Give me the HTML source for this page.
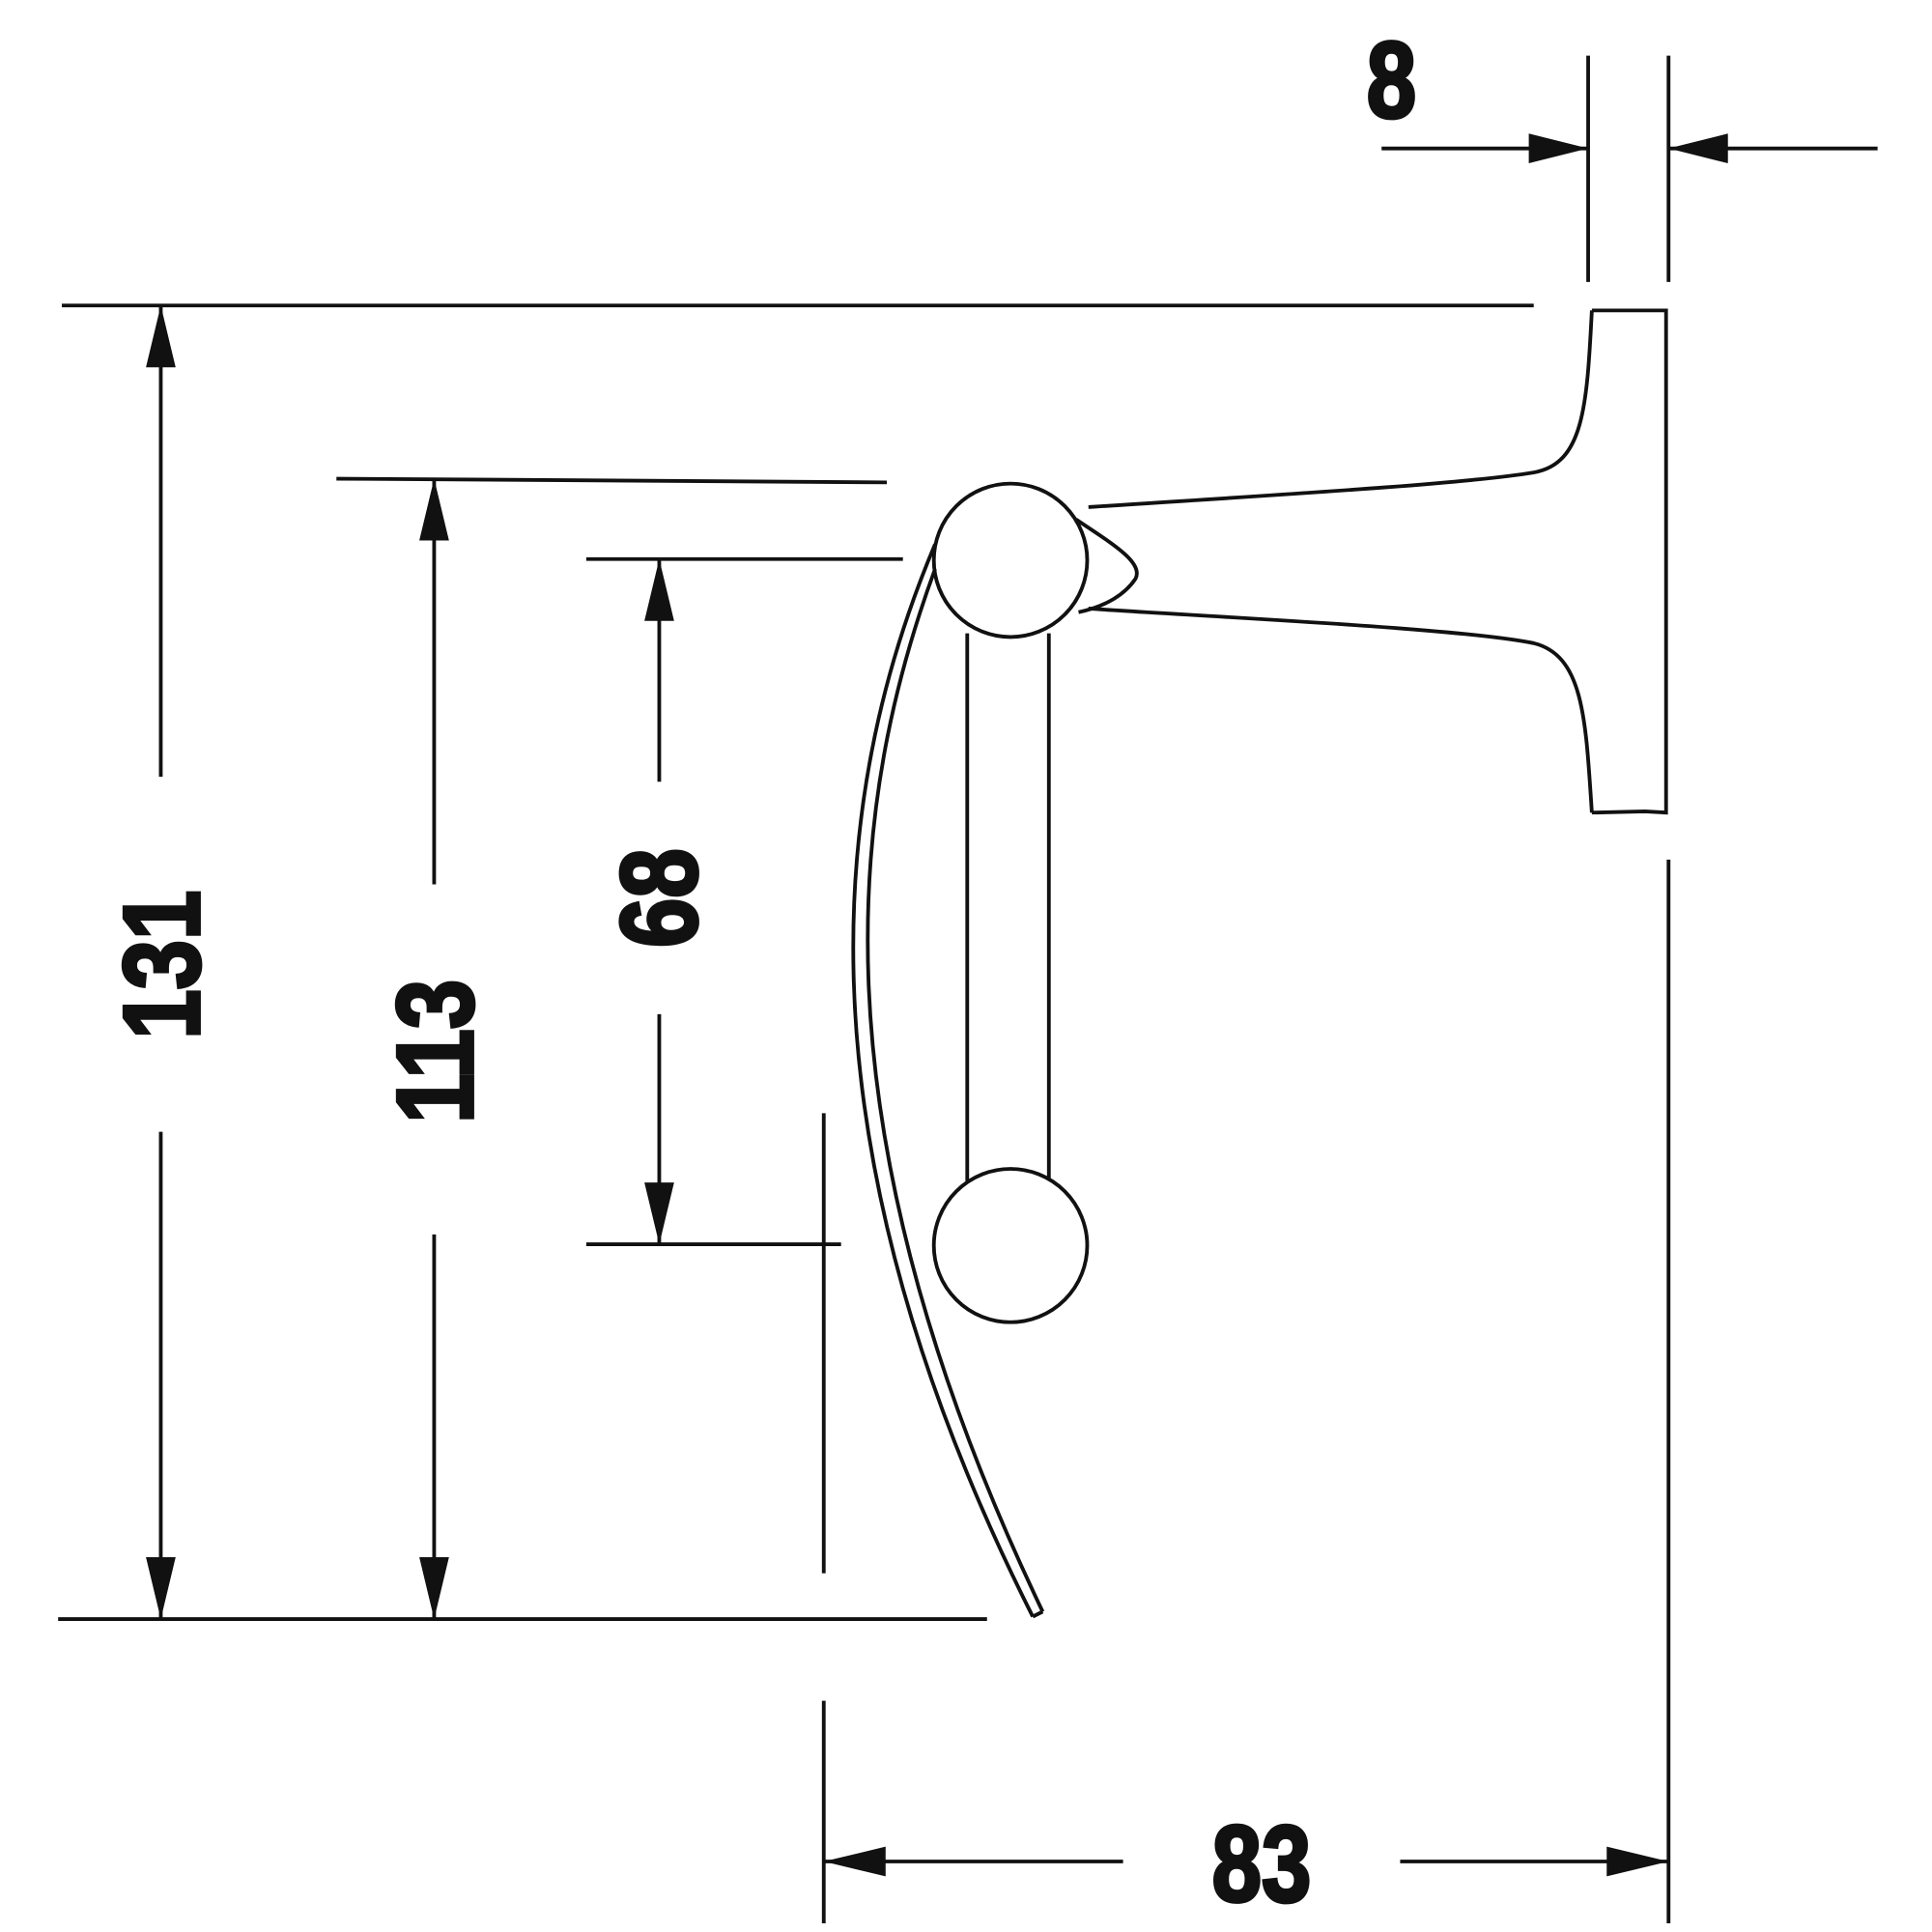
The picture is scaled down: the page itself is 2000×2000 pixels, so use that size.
<!DOCTYPE html>
<html><head><style>html,body{margin:0;padding:0;background:#fff}svg{display:block}</style></head>
<body>
<svg width="2000" height="2000" viewBox="0 0 1562 1562" xmlns="http://www.w3.org/2000/svg">
<g stroke="#111" stroke-width="3" fill="none">
<line x1="1117" y1="120" x2="1284" y2="120"/>
<line x1="1349" y1="120" x2="1518" y2="120"/>
<line x1="1284" y1="45" x2="1284" y2="228"/>
<line x1="1349" y1="45" x2="1349" y2="228"/>
<line x1="50" y1="247" x2="1240" y2="247"/>
<line x1="47" y1="1309" x2="798" y2="1309"/>
<line x1="272" y1="387" x2="717" y2="390"/>
<line x1="474" y1="452" x2="730" y2="452"/>
<line x1="474" y1="1006" x2="680" y2="1006"/>
<line x1="1349" y1="695" x2="1349" y2="1555"/>
<line x1="666" y1="900" x2="666" y2="1272"/>
<line x1="666" y1="1375" x2="666" y2="1555"/>
<line x1="130" y1="247" x2="130" y2="628"/>
<line x1="130" y1="915" x2="130" y2="1309"/>
<line x1="351" y1="387" x2="351" y2="715"/>
<line x1="351" y1="998" x2="351" y2="1309"/>
<line x1="533" y1="452" x2="533" y2="632"/>
<line x1="533" y1="820" x2="533" y2="1006"/>
<line x1="666" y1="1505" x2="908" y2="1505"/>
<line x1="1132" y1="1505" x2="1349" y2="1505"/>
<path d="M1287,251 L1347,251 L1347,657 L1330,656 L1287,657"/>
<path d="M1287,251 C1283,330 1280,375 1240,382 C1180,392 1000,402 880,410"/>
<path d="M880,492 C1000,500 1180,508 1240,520 C1280,530 1282,580 1287,657"/>
<ellipse cx="817" cy="453" rx="62" ry="62"/>
<path d="M870,420 C900,440 925,455 918,468 C910,480 895,490 872,495"/>
<line x1="782" y1="512" x2="782" y2="955"/>
<line x1="848" y1="512" x2="848" y2="955"/>
<circle cx="817" cy="1007" r="62" fill="#fff"/>
<path d="M756,440 C680,620 630,900 835,1307"/>
<path d="M756,460 C690,640 650,900 843,1303"/>
<line x1="835" y1="1307" x2="843" y2="1303"/>
</g>
<g fill="#111">
<polygon points="1284,120 1236,108 1236,132"/>
<polygon points="1349,120 1397,108 1397,132"/>
<polygon points="130,247 118,297 142,297"/>
<polygon points="130,1309 118,1259 142,1259"/>
<polygon points="351,387 339,437 363,437"/>
<polygon points="351,1309 339,1259 363,1259"/>
<polygon points="533,452 521,502 545,502"/>
<polygon points="533,1006 521,956 545,956"/>
<polygon points="666,1505 716,1493 716,1517"/>
<polygon points="1349,1505 1299,1493 1299,1517"/>
</g>
<g font-family="Liberation Sans, sans-serif" font-weight="bold" font-size="88" fill="#111" stroke="#111" stroke-width="3" text-anchor="middle">
<text transform="translate(1125,95) scale(0.82,1)">8</text>
<text transform="translate(1020,1537) scale(0.82,1)">83</text>
<text transform="translate(161,780) rotate(-90) scale(0.82,1)">131</text>
<text transform="translate(382,850) rotate(-90) scale(0.82,1)">113</text>
<text transform="translate(563,726) rotate(-90) scale(0.82,1)">68</text>
</g>
</svg>
</body></html>
